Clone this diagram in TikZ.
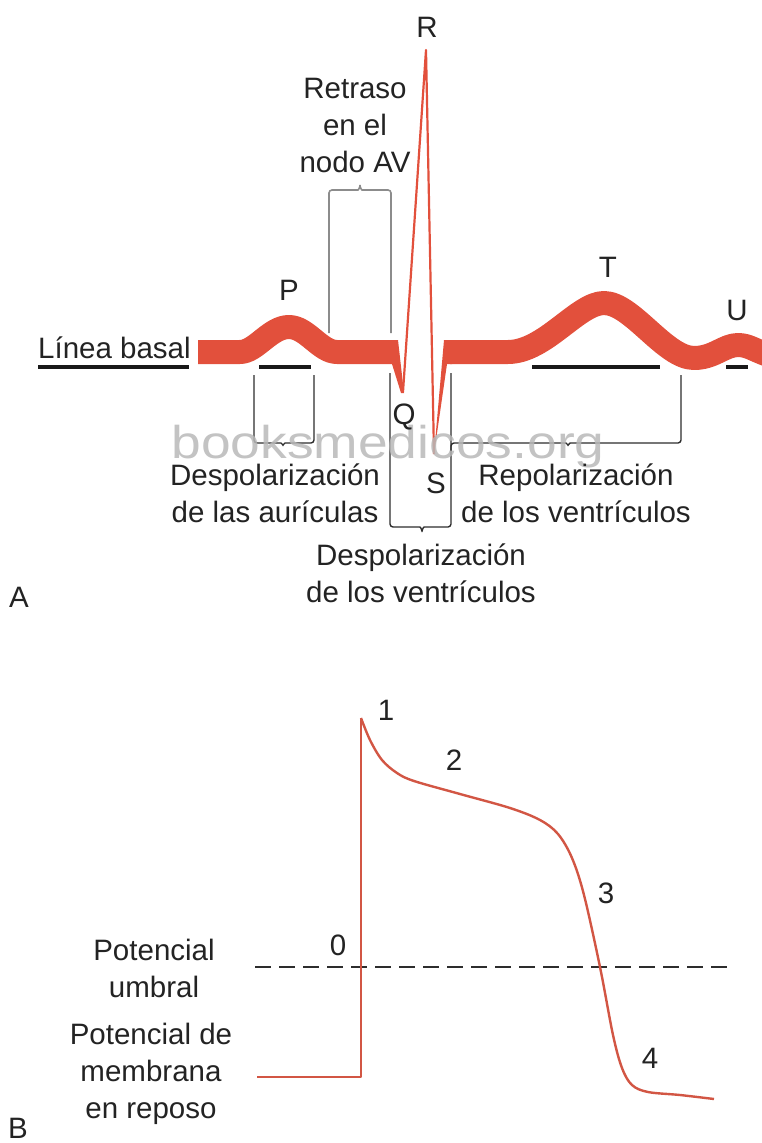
\documentclass[tikz,border=0pt]{standalone}
\usepackage{fontspec}
\setmainfont{Liberation Sans}
\definecolor{ecgred}{RGB}{226,80,60}
\definecolor{apred}{RGB}{210,86,68}
\definecolor{txt}{RGB}{35,35,35}
\definecolor{brk}{RGB}{45,45,45}
\definecolor{avgray}{RGB}{140,140,140}
\begin{document}
\begin{tikzpicture}[x=1pt,y=-1pt,
  lbl/.style={font=\fontsize{29.5}{37}\selectfont, text=txt, inner sep=0pt, anchor=base, align=center},
  band/.style={draw=ecgred, line width=24pt, line join=round, line cap=butt},
  spike/.style={draw=ecgred, line width=2.2pt, line join=round},
  basebar/.style={draw=black!90, line width=3.2pt},
  bracketline/.style={draw=brk, line width=1.4pt, rounded corners=3pt},
  avbracket/.style={draw=avgray, line width=1.6pt, rounded corners=3pt},
  apline/.style={draw=apred, line width=2.4pt, line join=round}]
\useasboundingbox (0,0) rectangle (761,1143);

% ---------- Part A: ECG ----------
% baseline bars
\draw[basebar] (38,367) -- (189,367);
\draw[basebar] (259,367) -- (311,367);
\draw[basebar] (532,367) -- (660,367);
\draw[basebar] (726,367) -- (748,367);

% thick band, left part with P wave
\draw[band] (198,352) -- (240,352) .. controls (256,352) and (270,327) .. (289,327)
  .. controls (307,327) and (320,352) .. (337,352) -- (392,352);
% Q wedge
\fill[ecgred] (392,340) -- (398,340) -- (404,393) -- (401,393) -- (392,364) -- cycle;
% R spike
\draw[spike] (403,392) -- (426,50) -- (434,454);
% S wedge
\fill[ecgred] (434,454) -- (444,340) -- (452,340) -- (452,364) -- (447,364) -- cycle;
% right part with T and U waves
\draw[band] (450,352) -- (508,352) .. controls (545,352) and (578,303) .. (604,303)
  .. controls (632,303) and (665,358) .. (694,358)
  .. controls (714,358) and (724,345) .. (738,345)
  .. controls (750,345) and (756,352) .. (775,357);

% AV delay bracket (gray)
\draw[avbracket] (329,333) -- (329,190) -- (355,190) .. controls (358,190) and (360,188) .. (360,183)
  .. controls (360,188) and (362,190) .. (365,190) -- (391,190) -- (391,333);

% P bracket
\draw[bracketline] (254,375) -- (254,443) -- (278,443) .. controls (281,443) and (283,445) .. (283,448)
  .. controls (283,445) and (285,443) .. (288,443) -- (314,443) -- (314,375);
% QRS bracket
\draw[bracketline] (390,373) -- (390,527) -- (417,527) .. controls (420,527) and (422,529) .. (422,534)
  .. controls (422,529) and (424,527) .. (427,527) -- (451,527) -- (451,373);
% T bracket
\draw[bracketline] (451,455) -- (451,443) -- (563,443) .. controls (566,443) and (568,445) .. (568,448)
  .. controls (568,445) and (570,443) .. (573,443) -- (681,443) -- (681,375);

% watermark
\node[font=\fontsize{46}{46}\selectfont, text=black!28, opacity=0.85, inner sep=0pt, anchor=base, xscale=1.16] (wm) at (388,458) {booksmedicos.org};

% labels
\node[lbl] (R) at (427,37) {R};
\node[lbl] (retraso) at (355,172) {Retraso\\en el\\nodo AV};
\node[lbl] (P) at (289,300) {P};
\node[lbl] (T) at (608,277) {T};
\node[lbl] (U) at (737,320) {U};
\node[lbl, anchor=base west] (basal) at (38,358) {Línea basal};
\node[lbl] (Q) at (404,424) {Q};
\node[lbl] (S) at (436,493) {S};
\node[lbl] (despa) at (275,522) {Despolarización\\de las aurículas};
\node[lbl] (repol) at (576,522) {Repolarización\\de los ventrículos};
\node[lbl] (despv) at (421,602) {Despolarización\\de los ventrículos};
\node[lbl, anchor=base west] (A) at (9,607) {A};

% ---------- Part B: action potential ----------
\draw[draw=brk, line width=1.4pt, dash pattern=on 16pt off 8pt] (255,967) -- (731,967);
\draw[apline] (257,1077) -- (361,1077) -- (361,718);
\draw[apline] plot[smooth, tension=0.55] coordinates {(361,718) (370,740) (382,760) (397,773) (414,781)
  (460,794) (510,808) (540,820) (558,834) (572,858) (584,895) (600,967) (613,1035) (622,1068)
  (632,1085) (648,1092) (680,1095) (714,1099)};

\node[lbl] (n1) at (386,720) {1};
\node[lbl] (n2) at (454,770) {2};
\node[lbl] (n3) at (606,903) {3};
\node[lbl] (n4) at (650,1068) {4};
\node[lbl] (n0) at (338,955) {0};
\node[lbl] (umbral) at (154,997) {Potencial\\umbral};
\node[lbl] (reposo) at (151,1118) {Potencial de\\membrana\\en reposo};
\node[lbl, anchor=base west] (B) at (8,1138) {B};
\end{tikzpicture}
\end{document}
